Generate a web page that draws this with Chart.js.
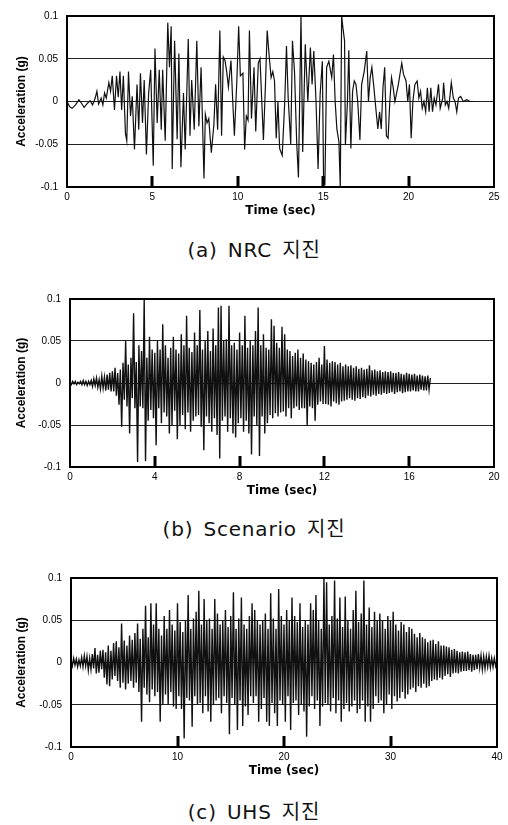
<!DOCTYPE html>
<html>
<head>
<meta charset="utf-8">
<script src="https://cdn.jsdelivr.net/npm/chart.js@4/dist/chart.umd.min.js"></script>
<style>
  html, body { margin: 0; padding: 0; background: #fff; }
  body { position: relative; width: 508px; height: 825px; overflow: hidden; }
  canvas { position: absolute; left: 0; }
  .cap {
    position: absolute; left: 0; width: 508px; text-align: center;
    font-family: "DejaVu Sans", "Noto Sans CJK KR", sans-serif;
    font-size: 20px; line-height: 24px; letter-spacing: 0.8px; word-spacing: 3px; color: #111;
  }
</style>
</head>
<body>
<canvas id="chartNrc" width="508" height="220" style="top:1px"></canvas>
<div class="cap" style="top:238px">(a) NRC 지진</div>
<canvas id="chartScn" width="508" height="217" style="top:284px"></canvas>
<div class="cap" style="top:517px">(b) Scenario 지진</div>
<canvas id="chartUhs" width="508" height="218" style="top:563px"></canvas>
<div class="cap" style="top:800px">(c) UHS 지진</div>

<script>
/* ── shared axis values ── */
const accelTicks = [-0.1, -0.05, 0, 0.05, 0.1];
const yTitle = 'Acceleration (g)';
const xTitle = 'Time (sec)';

/* ── (a) NRC record: peaks ── */
const nrcTimeTicks = [0, 5, 10, 15, 20, 25];
const nrcTime = [
  0, 0.15, 0.3, 0.5, 0.7, 0.85, 1.0, 1.2, 1.35, 1.5, 1.65, 1.75, 1.85, 2.0, 2.1, 2.2, 2.3, 2.45, 2.55, 2.65,
  2.78, 2.9, 3.0, 3.1, 3.2, 3.3, 3.42, 3.5, 3.6, 3.72, 3.82, 3.95, 4.1, 4.2, 4.3, 4.42, 4.52, 4.65, 4.78, 4.9,
  5.05, 5.15, 5.28, 5.4, 5.52, 5.6, 5.75, 5.9, 6.0, 6.1, 6.16, 6.3, 6.45, 6.55, 6.67, 6.82, 6.92, 7.1, 7.2, 7.3,
  7.45, 7.6, 7.72, 7.85, 8.02, 8.1, 8.2, 8.3, 8.45, 8.6, 8.7, 8.82, 8.95, 9.05, 9.15, 9.25, 9.35, 9.45, 9.6, 9.7,
  9.8, 9.95, 10.05, 10.15, 10.3, 10.4, 10.5, 10.6, 10.68, 10.8, 10.95, 11.05, 11.2, 11.3, 11.5, 11.62, 11.72, 11.85, 11.95, 12.05,
  12.15, 12.25, 12.35, 12.45, 12.6, 12.75, 12.85, 12.95, 13.1, 13.2, 13.32, 13.45, 13.55, 13.7, 13.8, 13.95, 14.1, 14.25, 14.35, 14.45,
  14.58, 14.7, 14.82, 14.95, 15.02, 15.1, 15.2, 15.33, 15.5, 15.6, 15.7, 15.8, 15.92, 16.0, 16.08, 16.15, 16.25, 16.3, 16.42, 16.5,
  16.62, 16.72, 16.82, 16.92, 17.02, 17.15, 17.25, 17.4, 17.55, 17.65, 17.75, 17.85, 17.95, 18.1, 18.2, 18.3, 18.4, 18.5, 18.6, 18.7,
  18.8, 18.9, 19.0, 19.1, 19.2, 19.4, 19.6, 19.7, 19.85, 19.95, 20.05, 20.15, 20.25, 20.37, 20.5, 20.6, 20.7, 20.8, 20.9, 21.0,
  21.1, 21.2, 21.3, 21.4, 21.5, 21.6, 21.75, 21.85, 22.0, 22.05, 22.15, 22.25, 22.35, 22.5, 22.62, 22.72, 22.82, 22.92, 23.05, 23.2,
  23.4, 23.6, 23.9
];
const nrcAccel = [
  0, -0.006, -0.008, -0.004, 0.002, -0.002, -0.007, -0.002, 0.001, -0.004, 0.004, 0.012, -0.003, 0.004, -0.004, 0.01, 0.004, 0.022, 0.012, 0.03,
  -0.01, 0.03, 0.005, 0.035, -0.01, 0.03, -0.037, -0.046, 0.035, -0.017, 0.006, -0.056, 0.02, -0.033, 0.033, -0.025, 0.025, -0.062, 0.01, 0.037,
  -0.075, 0.062, -0.025, 0.037, -0.033, 0.037, -0.046, 0.092, 0.04, 0.088, -0.079, 0.071, -0.044, 0.056, -0.077, 0.01, -0.056, 0.073, -0.04, 0.025,
  -0.033, 0.071, -0.029, 0.04, -0.09, -0.015, -0.025, -0.02, -0.06, -0.027, 0.02, -0.033, 0.083, -0.04, 0.052, 0.048, 0.035, 0.017, 0.048, 0.002,
  -0.04, 0.027, 0.088, 0.03, 0.033, -0.056, -0.017, -0.022, 0.083, -0.02, 0.04, -0.035, 0.045, 0.05, -0.045, 0.02, 0.083, 0.05, 0.028, 0.035,
  0.024, -0.043, 0.0, -0.055, -0.063, 0.0, 0.065, 0.004, -0.05, 0.071, 0.035, -0.049, -0.089, 0.1, -0.059, 0.067, 0.0, 0.063, 0.02, 0.059,
  0.0, -0.079, 0.008, 0.047, -0.087, -0.098, 0.04, 0.047, 0.028, 0.055, 0.0, -0.032, -0.047, -0.1, 0.1, 0.087, 0.071, -0.051, 0.0, 0.06,
  -0.055, 0.012, 0.024, 0.02, 0.0, -0.045, 0.02, 0.035, 0.059, 0.0, 0.028, 0.04, 0.02, -0.012, -0.032, -0.012, -0.032, 0.016, 0.04, -0.04,
  -0.043, 0.0, 0.028, 0.016, 0.0, 0.02, 0.045, 0.032, 0.024, 0.0, 0.02, -0.043, 0.0, 0.02, 0.024, 0.004, 0.012, -0.008, 0.0, -0.012,
  0.016, -0.012, 0.016, -0.012, 0.004, -0.004, 0.02, -0.008, 0.004, 0.022, -0.004, 0.0, -0.008, 0.022, 0.004, 0.0, -0.012, 0.004, 0.006, 0.0,
  0.002, 0.0, 0.0
];

/* ── (b) Scenario record: sampled every 1/16 s ── */
const scnTimeTicks = [0, 4, 8, 12, 16, 20];
const scnDt = 0.0625;
const scnAccel = [
  .001,-.002,.002,-.001,.002,-.002,.001,-.001,.002,-.002,.003,-.002,.002,-.003,.002,-.002,
  .003,-.004,.005,-.003,.006,-.005,.004,-.007,.008,-.006,.007,-.009,.010,-.008,.012,-.010,
  .014,-.010,.018,-.015,.012,-.026,.016,-.052,.024,-.020,.050,-.028,.022,-.060,.030,-.018,
  .083,-.030,.025,-.094,.045,-.028,.038,-.030,.100,-.093,.030,-.045,.055,-.032,.040,-.042,
  .036,-.074,.050,-.030,.040,-.048,.070,-.035,.045,-.040,.030,-.060,.042,-.050,.055,-.033,
  .040,-.067,.035,-.050,.058,-.038,.045,-.055,.080,-.035,.042,-.058,.037,-.045,.060,-.040,
  .045,-.038,.087,-.052,.040,-.080,.050,-.040,.062,-.048,.038,-.058,.065,-.042,.045,-.062,
  .090,-.090,.092,-.045,.050,-.040,.052,-.058,.092,-.042,.045,-.060,.048,-.065,.040,-.048,
  .060,-.042,.045,-.058,.080,-.045,.042,-.060,.050,-.085,.045,-.040,.062,-.050,.090,-.087,
  .045,-.040,.058,-.060,.042,-.048,.040,-.038,.076,-.042,.068,-.036,.048,-.040,.042,-.035,
  .067,-.034,.058,-.040,.040,-.030,.038,-.042,.032,-.030,.036,-.028,.040,-.032,.030,-.030,
  .035,-.030,.028,-.050,.026,-.028,.024,-.030,.022,-.045,.025,-.026,.030,-.022,.022,-.025,
  .044,-.025,.028,-.026,.024,-.028,.026,-.022,.025,-.024,.022,-.026,.024,-.022,.020,-.021,
  .022,-.020,.020,-.018,.021,-.020,.018,-.021,.020,-.018,.017,-.019,.018,-.017,.016,-.018,
  .017,-.015,.021,-.016,.015,-.014,.016,-.015,.014,-.013,.015,-.014,.013,-.012,.014,-.013,
  .013,-.012,.014,-.011,.012,-.013,.012,-.011,.013,-.010,.011,-.012,.010,-.011,.012,-.010,
  .011,-.010,.010,-.009,.011,-.010,.009,-.010,.010,-.008,.009,-.009,.008,-.009,.009,-.008,
  .006
];

/* ── (c) UHS record: sampled every 1/8 s ── */
const uhsTimeTicks = [0, 10, 20, 30, 40];
const uhsDt = 0.125;
const uhsAccel = [
  .003,-.004,.005,-.003,.004,-.005,.003,-.004,
  .006,-.005,.008,-.004,.007,-.009,.005,-.008,
  .010,-.007,.017,-.013,.009,-.012,.014,-.008,
  .015,-.018,.012,-.026,.020,-.028,.014,-.020,
  .023,-.016,.025,-.022,.018,-.030,.046,-.024,
  .026,-.032,.020,-.025,.032,-.022,.027,-.030,
  .035,-.024,.046,-.035,.028,-.070,.040,-.030,
  .067,-.038,.030,-.047,.070,-.032,.045,-.040,
  .070,-.035,.040,-.070,.032,-.050,.055,-.038,
  .040,-.050,.062,-.035,.045,-.052,.038,-.055,
  .070,-.040,.048,-.055,.036,-.090,.050,-.042,
  .080,-.045,.040,-.076,.052,-.040,.060,-.050,
  .085,-.048,.045,-.060,.075,-.040,.050,-.058,
  .052,-.070,.040,-.050,.075,-.045,.058,-.042,
  .045,-.060,.050,-.040,.062,-.048,.042,-.085,
  .055,-.042,.083,-.050,.040,-.080,.052,-.045,
  .077,-.075,.045,-.052,.040,-.062,.055,-.040,
  .070,-.048,.062,-.040,.050,-.070,.045,-.055,
  .050,-.042,.058,-.070,.040,-.075,.082,-.048,
  .052,-.060,.040,-.075,.087,-.045,.055,-.050,
  .045,-.070,.062,-.040,.050,-.080,.077,-.048,
  .055,-.045,.048,-.062,.070,-.050,.042,-.058,
  .050,-.088,.045,-.052,.070,-.040,.062,-.055,
  .080,-.045,.050,-.075,.040,-.052,.100,-.048,
  .095,-.050,.045,-.058,.055,-.042,.097,-.060,
  .052,-.045,.077,-.070,.042,-.055,.078,-.048,
  .050,-.058,.040,-.052,.062,-.045,.085,-.060,
  .048,-.055,.058,-.045,.097,-.070,.045,-.052,
  .065,-.070,.042,-.055,.060,-.040,.050,-.048,
  .058,-.045,.050,-.060,.040,-.050,.055,-.038,
  .050,-.055,.060,-.040,.045,-.046,.038,-.042,
  .048,-.035,.045,-.043,.036,-.038,.042,-.032,
  .040,-.030,.034,-.035,.030,-.028,.035,-.030,
  .030,-.025,.028,-.030,.024,-.028,.026,-.022,
  .027,-.020,.022,-.021,.025,-.018,.020,-.020,
  .020,-.016,.019,-.014,.018,-.017,.015,-.013,
  .016,-.012,.014,-.013,.012,-.011,.013,-.010,
  .012,-.010,.013,-.009,.010,-.011,.009,-.009,
  .009,-.008,.010,-.006,.008,-.008,.007,-.007,
  .007,-.005,.008,-.006,.005,-.005,.005,-.004,
  .002
];

// frame round the plot + short inward ticks on the time axis
const framePlugin = {
  id: 'frame',
  afterDatasetsDraw(chart) {
    const { ctx, chartArea: a, scales: { x } } = chart;
    ctx.save();
    ctx.strokeStyle = '#000';
    ctx.lineWidth = 2;
    ctx.strokeRect(a.left, a.top, a.right - a.left, a.bottom - a.top);
    ctx.lineWidth = 3;
    x.ticks.forEach(t => {
      if (t.value <= x.min || t.value >= x.max) return;
      const px = Math.round(x.getPixelForValue(t.value));
      ctx.beginPath();
      ctx.moveTo(px, a.bottom);
      ctx.lineTo(px, a.bottom - 11);
      ctx.stroke();
    });
    ctx.restore();
  }
};

function drawRecord(id, points, xTicks, box) {
  const xMax = xTicks[xTicks.length - 1];
  return new Chart(document.getElementById(id), {
    type: 'line',
    data: {
      datasets: [{
        data: points,
        borderColor: '#111',
        borderWidth: box.lw,
        pointRadius: 0,
        tension: 0,
      }],
    },
    options: {
      responsive: false,
      animation: false,
      events: [],
      layout: { padding: { top: 14, right: 508 - box.right, left: 0, bottom: 0 } },
      plugins: { legend: { display: false }, tooltip: { enabled: false } },
      scales: {
        x: {
          type: 'linear', min: 0, max: xMax,
          afterBuildTicks: s => { s.ticks = xTicks.map(v => ({ value: v })); },
          afterFit: s => { s.height = 34; },
          grid: { display: false, drawTicks: false },
          border: { display: false },
          ticks: { color: '#000', padding: 4, maxRotation: 0, autoSkip: false,
                   font: { family: 'Liberation Sans, Arial', size: 10 } },
          title: { display: true, text: xTitle, color: '#000', padding: { top: 0, bottom: 3 },
                   font: { family: 'DejaVu Sans', size: 12, weight: 'bold' } },
        },
        y: {
          min: -0.1, max: 0.1,
          afterBuildTicks: s => { s.ticks = accelTicks.map(v => ({ value: v })); },
          afterFit: s => { s.width = box.left; },
          grid: { color: '#222', lineWidth: 1, drawTicks: false },
          border: { display: false },
          ticks: { color: '#000', padding: 9, callback: v => String(v),
                   font: { family: 'Liberation Sans, Arial', size: 10 } },
          title: { display: true, text: yTitle, color: '#000', padding: { top: 14, bottom: 0 },
                   font: { family: 'Liberation Sans, Arial', size: 12, weight: 'bold' } },
        },
      },
    },
    plugins: [framePlugin],
  });
}

const nrcPoints = nrcTime.map((t, i) => ({ x: t, y: nrcAccel[i] }));
const scnPoints = scnAccel.map((a, i) => ({ x: i * scnDt, y: a }));
const uhsPoints = uhsAccel.map((a, i) => ({ x: i * uhsDt, y: a }));

drawRecord('chartNrc', nrcPoints, nrcTimeTicks, { left: 67, right: 494, lw: 1.2 });
drawRecord('chartScn', scnPoints, scnTimeTicks, { left: 70, right: 494, lw: 1.4 });
drawRecord('chartUhs', uhsPoints, uhsTimeTicks, { left: 71, right: 497, lw: 1.4 });
</script>
</body>
</html>
